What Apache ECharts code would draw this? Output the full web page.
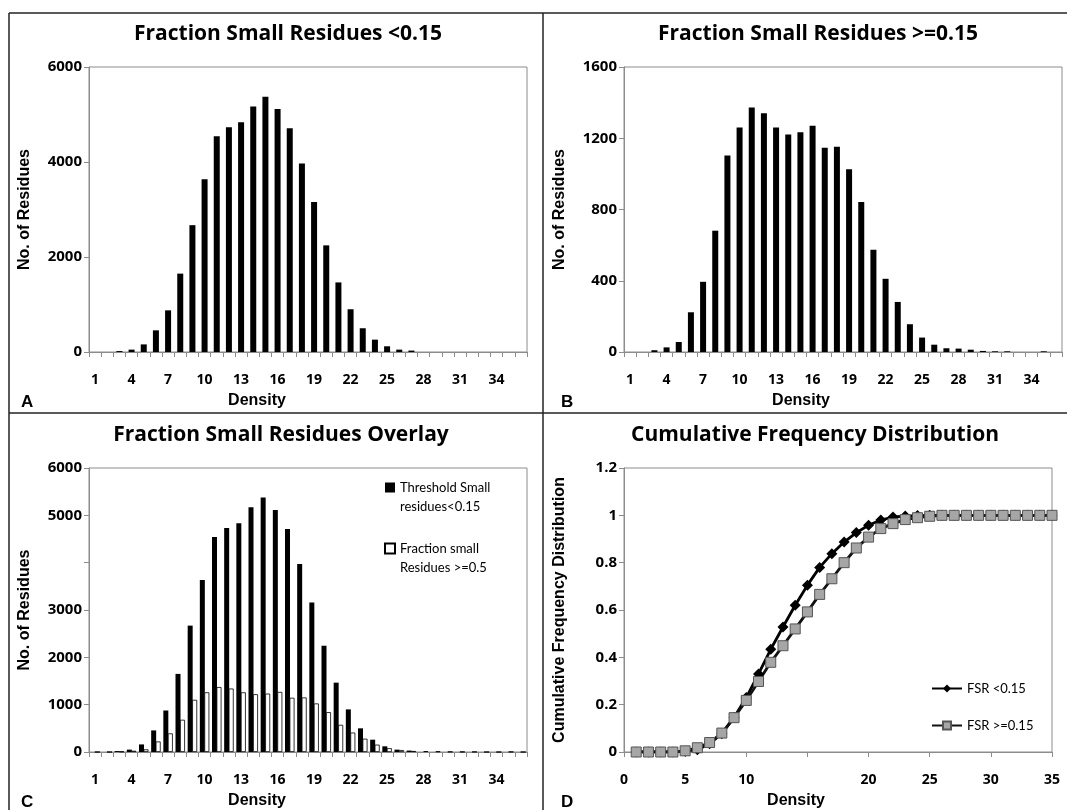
<!DOCTYPE html>
<html>
<head>
<meta charset="utf-8">
<title>Fraction Small Residues</title>
<script src="https://cdn.jsdelivr.net/npm/echarts@6/dist/echarts.min.js"></script>
<style>
  html, body { margin: 0; padding: 0; background: #fff; }
  #chart { width: 1067px; height: 810px; }
</style>
</head>
<body>
<div id="chart"></div>
<script>
// Density bins 1..36
const densityBins = Array.from({length: 36}, (_, i) => String(i + 1));

// Residue counts per density bin, fraction of small residues < 0.15
const countsLow = [0, 0, 20, 50, 160, 456, 877, 1650, 2670, 3635, 4540, 4730,
  4835, 5170, 5375, 5115, 4710, 3970, 3160, 2245, 1465, 900, 500, 260,
  120, 50, 30, 0, 0, 0, 0, 0, 0, 0, 0, 0];

// Residue counts per density bin, fraction of small residues >= 0.15
const countsHigh = [0, 0, 10, 26, 56, 223, 394, 681, 1103, 1261, 1373, 1341,
  1261, 1221, 1234, 1270, 1146, 1152, 1026, 842, 574, 411, 281, 156,
  81, 41, 21, 19, 13, 6, 4, 4, 0, 0, 4, 0];

// Cumulative frequency distribution, density 1..35
const cdfDensity = Array.from({length: 35}, (_, i) => i + 1);
const cdfLow = [0, 0, 0, 0, 0.003, 0.01, 0.035, 0.077, 0.146, 0.23, 0.33, 0.434,
  0.528, 0.62, 0.705, 0.78, 0.838, 0.887, 0.927, 0.958, 0.98, 0.993, 0.997, 0.999,
  1, 1, 1, 1, 1, 1, 1, 1, 1, 1, 1];
const cdfHigh = [0, 0, 0, 0, 0.005, 0.018, 0.04, 0.08, 0.145, 0.218, 0.298, 0.379,
  0.449, 0.52, 0.592, 0.666, 0.732, 0.8, 0.862, 0.908, 0.944, 0.965, 0.982, 0.99,
  0.996, 1, 1, 1, 1, 1, 1, 1, 1, 1, 1];

const panelTitles = ['Fraction Small Residues <0.15', 'Fraction Small Residues >=0.15',
  'Fraction Small Residues Overlay', 'Cumulative Frequency Distribution'];
const panelLetters = ['A', 'B', 'C', 'D'];
const legendOverlay = ['Threshold Small\nresidues<0.15', 'Fraction small\nResidues >=0.5'];
const legendCdf = ['FSR <0.15', 'FSR >=0.15'];

const CAL = '"Open Sans", Lato, sans-serif';
const LAT = 'Lato, "Open Sans", sans-serif';
const ARIAL = '"Liberation Sans", Arial, sans-serif';
const AX = '#8c8c8c';

const grids = [
  {left: 89, top: 67, width: 438, height: 285},
  {left: 624, top: 67, width: 438, height: 285},
  {left: 89, top: 468, width: 438, height: 284},
  {left: 624, top: 468, width: 428, height: 284}
];

function catAxis(gi, shift) {
  return {
    type: 'category', gridIndex: gi, data: densityBins,
    axisLine: {lineStyle: {color: AX, width: 1}},
    axisTick: {show: true, length: 5, lineStyle: {color: AX}, interval: 0},
    axisLabel: {interval: 2, margin: 21, color: '#000', fontFamily: CAL, fontWeight: 'bold', fontSize: 14},
    name: 'Density', nameLocation: 'middle', nameGap: 41,
    nameTextStyle: {fontFamily: ARIAL, fontWeight: 'bold', fontSize: 16, color: '#000', padding: [0, shift, 0, 0]}
  };
}
function valAxis(gi, max, interval, hide, name, fmt) {
  return {
    type: 'value', gridIndex: gi, min: 0, max: max, interval: interval,
    splitLine: {show: false},
    axisLine: {show: true, lineStyle: {color: AX, width: 1}},
    axisTick: {show: true, length: 5, lineStyle: {color: AX}},
    axisLabel: {
      margin: 7, color: '#000', fontFamily: CAL, fontWeight: 'bold', fontSize: 15,
      formatter: v => (hide.indexOf(v) >= 0 ? '' : (fmt ? fmt(v) : String(v)))
    },
    name: name, nameLocation: 'middle', nameGap: 56,
    nameTextStyle: {fontFamily: ARIAL, fontWeight: 'bold', fontSize: 16, color: '#000'}
  };
}

const titleCenters = [[283, 19], [813, 19], [276, 420], [810, 420]];
const letterPos = [[16, 389], [556, 389], [16, 789], [556, 789]];

const option = {
  animation: false,
  backgroundColor: '#fff',
  title: panelTitles.map((t, i) => ({
    text: t, left: titleCenters[i][0], top: titleCenters[i][1], textAlign: 'center',
    textStyle: {fontFamily: CAL, fontWeight: 'bold', fontSize: 21, color: '#000'}
  })).concat(panelLetters.map((t, i) => ({
    text: t, left: letterPos[i][0], top: letterPos[i][1],
    textStyle: {fontFamily: ARIAL, fontWeight: 'bold', fontSize: 17, color: '#000'}
  }))),
  grid: grids.map(g => Object.assign({show: true, borderColor: AX, borderWidth: 1, backgroundColor: 'transparent'}, g)),
  legend: [
    {
      // leading blank line keeps the marker level with the first text line
      data: [{name: legendOverlay[0]}, {name: legendOverlay[1]}],
      formatter: n => '\n' + n,
      orient: 'vertical', left: 384, top: 459, itemGap: 4, padding: 0,
      itemWidth: 10, itemHeight: 10, icon: 'rect',
      textStyle: {fontFamily: LAT, fontSize: 13, color: '#000', lineHeight: 19}
    },
    {
      data: [{name: legendCdf[0]}, {name: legendCdf[1]}],
      orient: 'vertical', left: 926, top: 677, itemGap: 24,
      itemWidth: 30, itemHeight: 10,
      textStyle: {fontFamily: LAT, fontSize: 13, color: '#000'}
    }
  ],
  xAxis: [
    catAxis(0, 102),
    catAxis(1, 84),
    catAxis(2, 102),
    {
      type: 'value', gridIndex: 3, min: 0, max: 35, interval: 5,
      splitLine: {show: false},
      axisLine: {lineStyle: {color: AX}},
      axisTick: {show: true, length: 5, lineStyle: {color: AX}},
      axisLabel: {margin: 21, color: '#000', fontFamily: CAL, fontWeight: 'bold', fontSize: 14,
        formatter: v => (v === 15 ? '' : String(v))},
      name: 'Density', nameLocation: 'middle', nameGap: 41,
      nameTextStyle: {fontFamily: ARIAL, fontWeight: 'bold', fontSize: 16, color: '#000', padding: [0, 84, 0, 0]}
    }
  ],
  yAxis: [
    valAxis(0, 6000, 2000, [], 'No. of Residues'),
    valAxis(1, 1600, 400, [], 'No. of Residues'),
    valAxis(2, 6000, 1000, [4000], 'No. of Residues'),
    valAxis(3, 1.2, 0.2, [], 'Cumulative Frequency Distribution', v => String(Math.round(v * 10) / 10))
  ],
  series: [
    {type: 'bar', xAxisIndex: 0, yAxisIndex: 0, data: countsLow, barWidth: 6,
      itemStyle: {color: '#000'}},
    {type: 'bar', xAxisIndex: 1, yAxisIndex: 1, data: countsHigh, barWidth: 6,
      itemStyle: {color: '#000'}},
    {type: 'bar', name: legendOverlay[0], xAxisIndex: 2, yAxisIndex: 2, data: countsLow,
      barWidth: 5, barGap: '-10%', itemStyle: {color: '#000'}},
    {type: 'bar', name: legendOverlay[1], xAxisIndex: 2, yAxisIndex: 2, data: countsHigh,
      barWidth: 5, itemStyle: {color: '#fff', borderColor: '#000', borderWidth: 0.8}},
    {type: 'line', name: legendCdf[0], xAxisIndex: 3, yAxisIndex: 3,
      data: cdfDensity.map((x, i) => [x, cdfLow[i]]),
      symbol: 'diamond', symbolSize: 11,
      lineStyle: {color: '#000', width: 2.8}, itemStyle: {color: '#000'}},
    {type: 'line', name: legendCdf[1], xAxisIndex: 3, yAxisIndex: 3,
      data: cdfDensity.map((x, i) => [x, cdfHigh[i]]),
      symbol: 'rect', symbolSize: 10,
      lineStyle: {color: '#111', width: 2.8}, itemStyle: {color: '#a6a6a6', borderColor: '#555', borderWidth: 1}}
  ],
  graphic: [
    {type: 'line', shape: {x1: 9, y1: 13, x2: 1067, y2: 13}, style: {stroke: '#222', lineWidth: 1.5}},
    {type: 'line', shape: {x1: 9, y1: 13, x2: 9, y2: 810}, style: {stroke: '#222', lineWidth: 1.5}},
    {type: 'line', shape: {x1: 543, y1: 13, x2: 543, y2: 810}, style: {stroke: '#222', lineWidth: 1.5}},
    {type: 'line', shape: {x1: 9, y1: 413, x2: 1067, y2: 413}, style: {stroke: '#222', lineWidth: 1.5}}
  ]
};

const chart = echarts.init(document.getElementById('chart'), null, {renderer: 'canvas'});
chart.setOption(option);
</script>
</body>
</html>
